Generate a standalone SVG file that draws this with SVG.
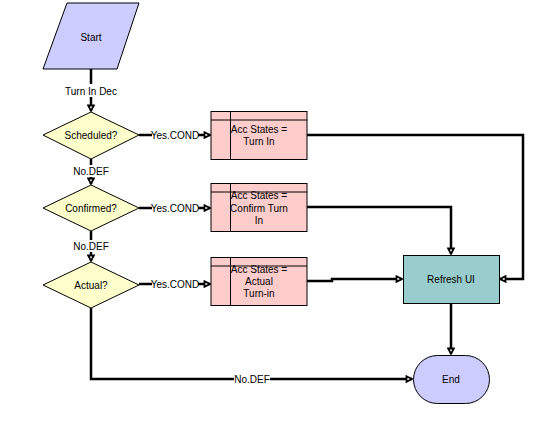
<svg xmlns="http://www.w3.org/2000/svg" width="538" height="422" viewBox="0 0 538 422">
<style>
text{font-family:"Liberation Sans",Arial,sans-serif;font-size:10px;fill:#000;text-anchor:middle;dominant-baseline:central}
.sh{stroke:#000;stroke-width:1}
.c{fill:none;stroke:#000;stroke-width:2.5}
.bg{fill:#fff;stroke:none}
</style>
<defs>
<marker id="ah" viewBox="0 0 8 8" refX="7" refY="4" markerWidth="8" markerHeight="8" markerUnits="userSpaceOnUse" orient="auto">
<path d="M1.5,1.2 L6.8,4 L1.5,6.8 Z" fill="#fff" stroke="#000" stroke-width="1.8"/>
</marker>
</defs>
<rect width="538" height="422" fill="#fff"/>
<g id="connectors">
<path class="c" d="M91,69 V111" marker-end="url(#ah)"/>
<path class="c" d="M139,135 H210" marker-end="url(#ah)"/>
<path class="c" d="M91,159 V184" marker-end="url(#ah)"/>
<path class="c" d="M139,208 H210" marker-end="url(#ah)"/>
<path class="c" d="M91,231 V261" marker-end="url(#ah)"/>
<path class="c" d="M139,284 H210" marker-end="url(#ah)"/>
<path class="c" d="M307,135 H523 V279 H500" marker-end="url(#ah)"/>
<path class="c" d="M307,207 H451 V254" marker-end="url(#ah)"/>
<path class="c" d="M307,281 H332 V279 H402" marker-end="url(#ah)"/>
<path class="c" d="M451,303 V354" marker-end="url(#ah)"/>
<path class="c" d="M91,308 V379 H412" marker-end="url(#ah)"/>
<rect class="bg" x="63" y="84" width="56" height="13"/>
<text x="91" y="91">Turn In Dec</text>
<rect class="bg" x="152" y="129" width="46" height="12"/>
<text x="175" y="135">Yes.COND</text>
<rect class="bg" x="73" y="165" width="36" height="12"/>
<text x="91" y="171">No.DEF</text>
<rect class="bg" x="152" y="202" width="46" height="12"/>
<text x="175" y="208">Yes.COND</text>
<rect class="bg" x="73" y="240" width="36" height="12"/>
<text x="91" y="246">No.DEF</text>
<rect class="bg" x="152" y="278" width="46" height="12"/>
<text x="175" y="284">Yes.COND</text>
<rect class="bg" x="234" y="373" width="36" height="12"/>
<text x="252" y="379">No.DEF</text>
</g>
<g id="start">
<polygon class="sh" points="67,3 139,3 117,69 43,69" fill="#CCCCFF"/>
<text x="91" y="37">Start</text>
</g>
<g id="scheduled">
<polygon class="sh" points="43,135 91,112 139,135 91,159" fill="#FFFFCC"/>
<text x="91" y="135">Scheduled?</text>
</g>
<g id="confirmed">
<polygon class="sh" points="43,208 91,185 139,208 91,231" fill="#FFFFCC"/>
<text x="91" y="208">Confirmed?</text>
</g>
<g id="actual">
<polygon class="sh" points="43,285 91,262 139,285 91,308" fill="#FFFFCC"/>
<text x="91" y="285">Actual?</text>
</g>
<g id="acc1">
<rect class="sh" x="211" y="111.5" width="96" height="48" fill="#FFCCCC"/>
<path class="sh" d="M211,120 H307 M230.5,111.5 V159.5"/>
<text x="259" y="129">Acc States =</text>
<text x="259" y="141.5">Turn In</text>
</g>
<g id="acc2">
<rect class="sh" x="211" y="183.5" width="96" height="48" fill="#FFCCCC"/>
<path class="sh" d="M211,192 H307 M230.5,183.5 V231.5"/>
<text x="259" y="195.5">Acc States =</text>
<text x="259" y="208">Confirm Turn</text>
<text x="259" y="220.5">In</text>
</g>
<g id="acc3">
<rect class="sh" x="211" y="257.5" width="96" height="48" fill="#FFCCCC"/>
<path class="sh" d="M211,266 H307 M230.5,257.5 V305.5"/>
<text x="259" y="269.5">Acc States =</text>
<text x="259" y="281">Actual</text>
<text x="259" y="293">Turn-in</text>
</g>
<g id="refresh">
<rect class="sh" x="403.5" y="255.5" width="96" height="48" fill="#99CCCC"/>
<text x="451" y="279">Refresh UI</text>
</g>
<g id="end">
<rect class="sh" x="413.5" y="355.5" width="76" height="48" rx="24" ry="24" fill="#CCCCFF"/>
<text x="451" y="379">End</text>
</g>
</svg>
